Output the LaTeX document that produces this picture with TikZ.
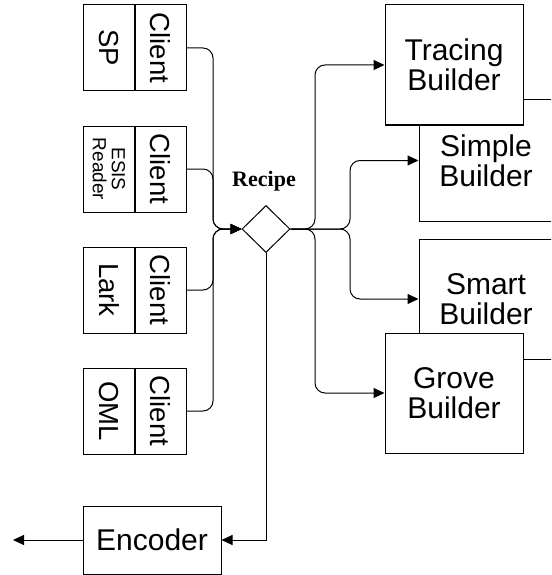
\documentclass[tikz,border=0pt]{standalone}
\usepackage{fontspec}
\setmainfont{Liberation Sans}
\newfontfamily\serifbold{Liberation Serif}
\usetikzlibrary{arrows.meta,shapes.geometric}
\begin{document}
\begin{tikzpicture}[x=1pt,y=-1pt, line width=1pt,
  box/.style={draw, fill=white, line width=1pt, inner sep=0pt, align=center},
  bigtxt/.style={font=\fontsize{30}{30}\selectfont},
  cltxt/.style={font=\fontsize{27.5}{30}\selectfont},
  clbox/.style={box, minimum width=51pt, minimum height=86pt},
  arr/.style={-{Triangle[length=11pt,width=10pt]}},
  conn/.style={arr, rounded corners=10pt}
]
\useasboundingbox (0,0) rectangle (551,575);
\clip (0,0) rectangle (551,575);

% client boxes
\node[clbox] (spn) at (109,48) {};
\node[cltxt, rotate=-90] (spnt) at (spn.center) {SP};
\node[clbox] (spc) at (160.5,48) {};
\node[cltxt, rotate=-90] (spct) at (spc.center) {Client};

\node[clbox] (esn) at (109,169) {};
\node[font=\fontsize{19}{19}\selectfont, rotate=-90, align=center] (esnt) at (esn.center) {ESIS\\Reader};
\node[clbox] (esc) at (160.5,169) {};
\node[cltxt, rotate=-90] (esct) at (esc.center) {Client};

\node[clbox] (lkn) at (109,290) {};
\node[cltxt, rotate=-90] (lknt) at (lkn.center) {Lark};
\node[clbox] (lkc) at (160.5,290) {};
\node[cltxt, rotate=-90] (lkct) at (lkc.center) {Client};

\node[clbox] (omn) at (109,411) {};
\node[cltxt, rotate=-90] (omnt) at (omn.center) {OML};
\node[clbox] (omc) at (160.5,411) {};
\node[cltxt, rotate=-90] (omct) at (omc.center) {Client};

% recipe
\node[draw, diamond, minimum width=48pt, minimum height=47pt, inner sep=0pt] (recipe) at (266,229) {};
\node[font=\serifbold\bfseries\fontsize{22}{22}\selectfont] (recipelabel) at (264,181) {Recipe};

% builders
\node[box, bigtxt, minimum width=134pt, minimum height=121pt] (simple) at (486,160.5) {Simple\\Builder};
\node[box, bigtxt, minimum width=138pt, minimum height=120pt] (tracing) at (454,65) {Tracing\\Builder};
\node[box, bigtxt, minimum width=134pt, minimum height=120pt] (smart) at (486,299) {Smart\\Builder};
\node[box, bigtxt, minimum width=138pt, minimum height=120pt] (grove) at (454,393) {Grove\\Builder};

% encoder
\node[box, bigtxt, minimum width=138pt, minimum height=68pt] (encoder) at (152,540) {Encoder};

% bus coordinates
\coordinate (busL) at (213,229);
\coordinate (busR1) at (315,229);
\coordinate (busR2) at (350,229);
\coordinate (out) at (13,540);

% input connectors
\draw[conn] (spc.east) -| (busL) -- (recipe.west);
\draw[conn] (esc.east) -| (busL) -- (recipe.west);
\draw[conn] (lkc.east) -| (busL) -- (recipe.west);
\draw[conn] (omc.east) -| (busL) -- (recipe.west);

% output connectors
\draw[conn] (recipe.east) -- (busR1) |- (tracing.west);
\draw[conn] (recipe.east) -- (busR2) |- (simple.west);
\draw[conn] (recipe.east) -- (busR2) |- (smart.west);
\draw[conn] (recipe.east) -- (busR1) |- (grove.west);

% encoder
\draw[arr] (recipe.south) |- (encoder.east);
\draw[arr] (encoder.west) -- (out);
\end{tikzpicture}
\end{document}
